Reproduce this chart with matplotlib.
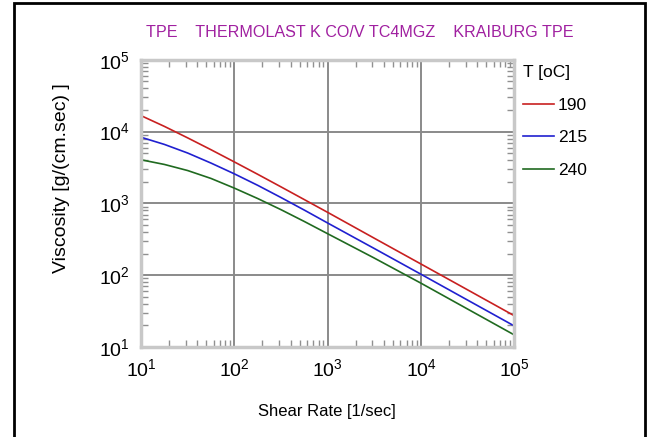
import matplotlib
matplotlib.use("Agg")
import matplotlib.pyplot as plt
from matplotlib import font_manager
from matplotlib.patches import Rectangle
from matplotlib.ticker import LogLocator, NullFormatter

# narrow font like the original, if installed
names = {f.name for f in font_manager.fontManager.ttflist}
narrow = "Liberation Sans Narrow" if "Liberation Sans Narrow" in names else "Liberation Sans"
plt.rcParams["font.family"] = [narrow, "DejaVu Sans"]
plt.rcParams["mathtext.fontset"] = "custom"
plt.rcParams["mathtext.rm"] = narrow
plt.rcParams["mathtext.it"] = narrow

# data
shear_rate = [10, 17.8, 31.6, 56.2, 100, 178, 316, 562, 1000, 3162, 10000, 31623, 100000]
visc_190 = [16710, 11830, 8185, 5598, 3784, 2544, 1700, 1130, 750, 327, 143, 62.4, 27.2]
visc_215 = [8356, 6637, 5035, 3648, 2582, 1786, 1208, 807, 533, 235, 103, 44.9, 19.6]
visc_240 = [4055, 3491, 2871, 2228, 1633, 1169, 818, 560, 378, 173, 77.3, 33.7, 14.7]
temps = ["190", "215", "240"]
colors = ["#c82020", "#2020d0", "#206a20"]

fig = plt.figure(figsize=(6.47, 4.37), dpi=100)
ax = fig.add_axes([0.218, 0.206, 0.577, 0.657])

for ys, t, c in zip([visc_190, visc_215, visc_240], temps, colors):
    ax.plot(shear_rate, ys, color=c, lw=1.2, label=t)

ax.set_xscale("log")
ax.set_yscale("log")
ax.set_xlim(10, 1e5)
ax.set_ylim(10, 1e5)

ax.xaxis.set_minor_locator(LogLocator(base=10, subs=range(2, 10)))
ax.yaxis.set_minor_locator(LogLocator(base=10, subs=range(2, 10)))
ax.xaxis.set_minor_formatter(NullFormatter())
ax.yaxis.set_minor_formatter(NullFormatter())
ax.set_xticks([10, 100, 1000, 10000, 100000])
ax.set_xticklabels([r"$10^1$", r"$10^2$", r"$10^3$", r"$10^4$", r"$10^5$"])
ax.set_yticks([10, 100, 1000, 10000, 100000])
ax.set_yticklabels([r"$10^1$", r"$10^2$", r"$10^3$", r"$10^4$", r"$10^5$"])

ax.tick_params(which="major", length=0, labelsize=14, pad=8)
ax.tick_params(which="minor", direction="in", length=5, width=1,
               color="#909090", top=True, right=True)
ax.grid(True, which="major", color="#8a8a8a", lw=1.4)
for s in ax.spines.values():
    s.set_color("#c8c8c8")
    s.set_linewidth(2.5)

ax.set_xlabel("Shear Rate [1/sec]", fontsize=12)
ax.xaxis.set_label_coords(0.497, -0.20)
ax.set_ylabel("Viscosity [g/(cm.sec) ]", fontsize=14)
ax.yaxis.set_label_coords(-0.19, 0.589)
fig.text(0.556, 0.926, "TPE    THERMOLAST K CO/V TC4MGZ    KRAIBURG TPE",
         color="#a020a0", fontsize=11.6, ha="center", va="center")

leg = ax.legend(loc="upper left", bbox_to_anchor=(0.995, 1.017), frameon=False,
                title="T [oC]", title_fontsize=12.5, fontsize=12.5,
                handlelength=1.8, handletextpad=0.2, labelspacing=1.0,
                alignment="left", borderaxespad=0.2)

fig.patches.append(Rectangle((0.022, -0.01), 0.975, 1.003, transform=fig.transFigure,
                             fill=False, edgecolor="black", lw=2))

fig.savefig("out.png", dpi=100)
